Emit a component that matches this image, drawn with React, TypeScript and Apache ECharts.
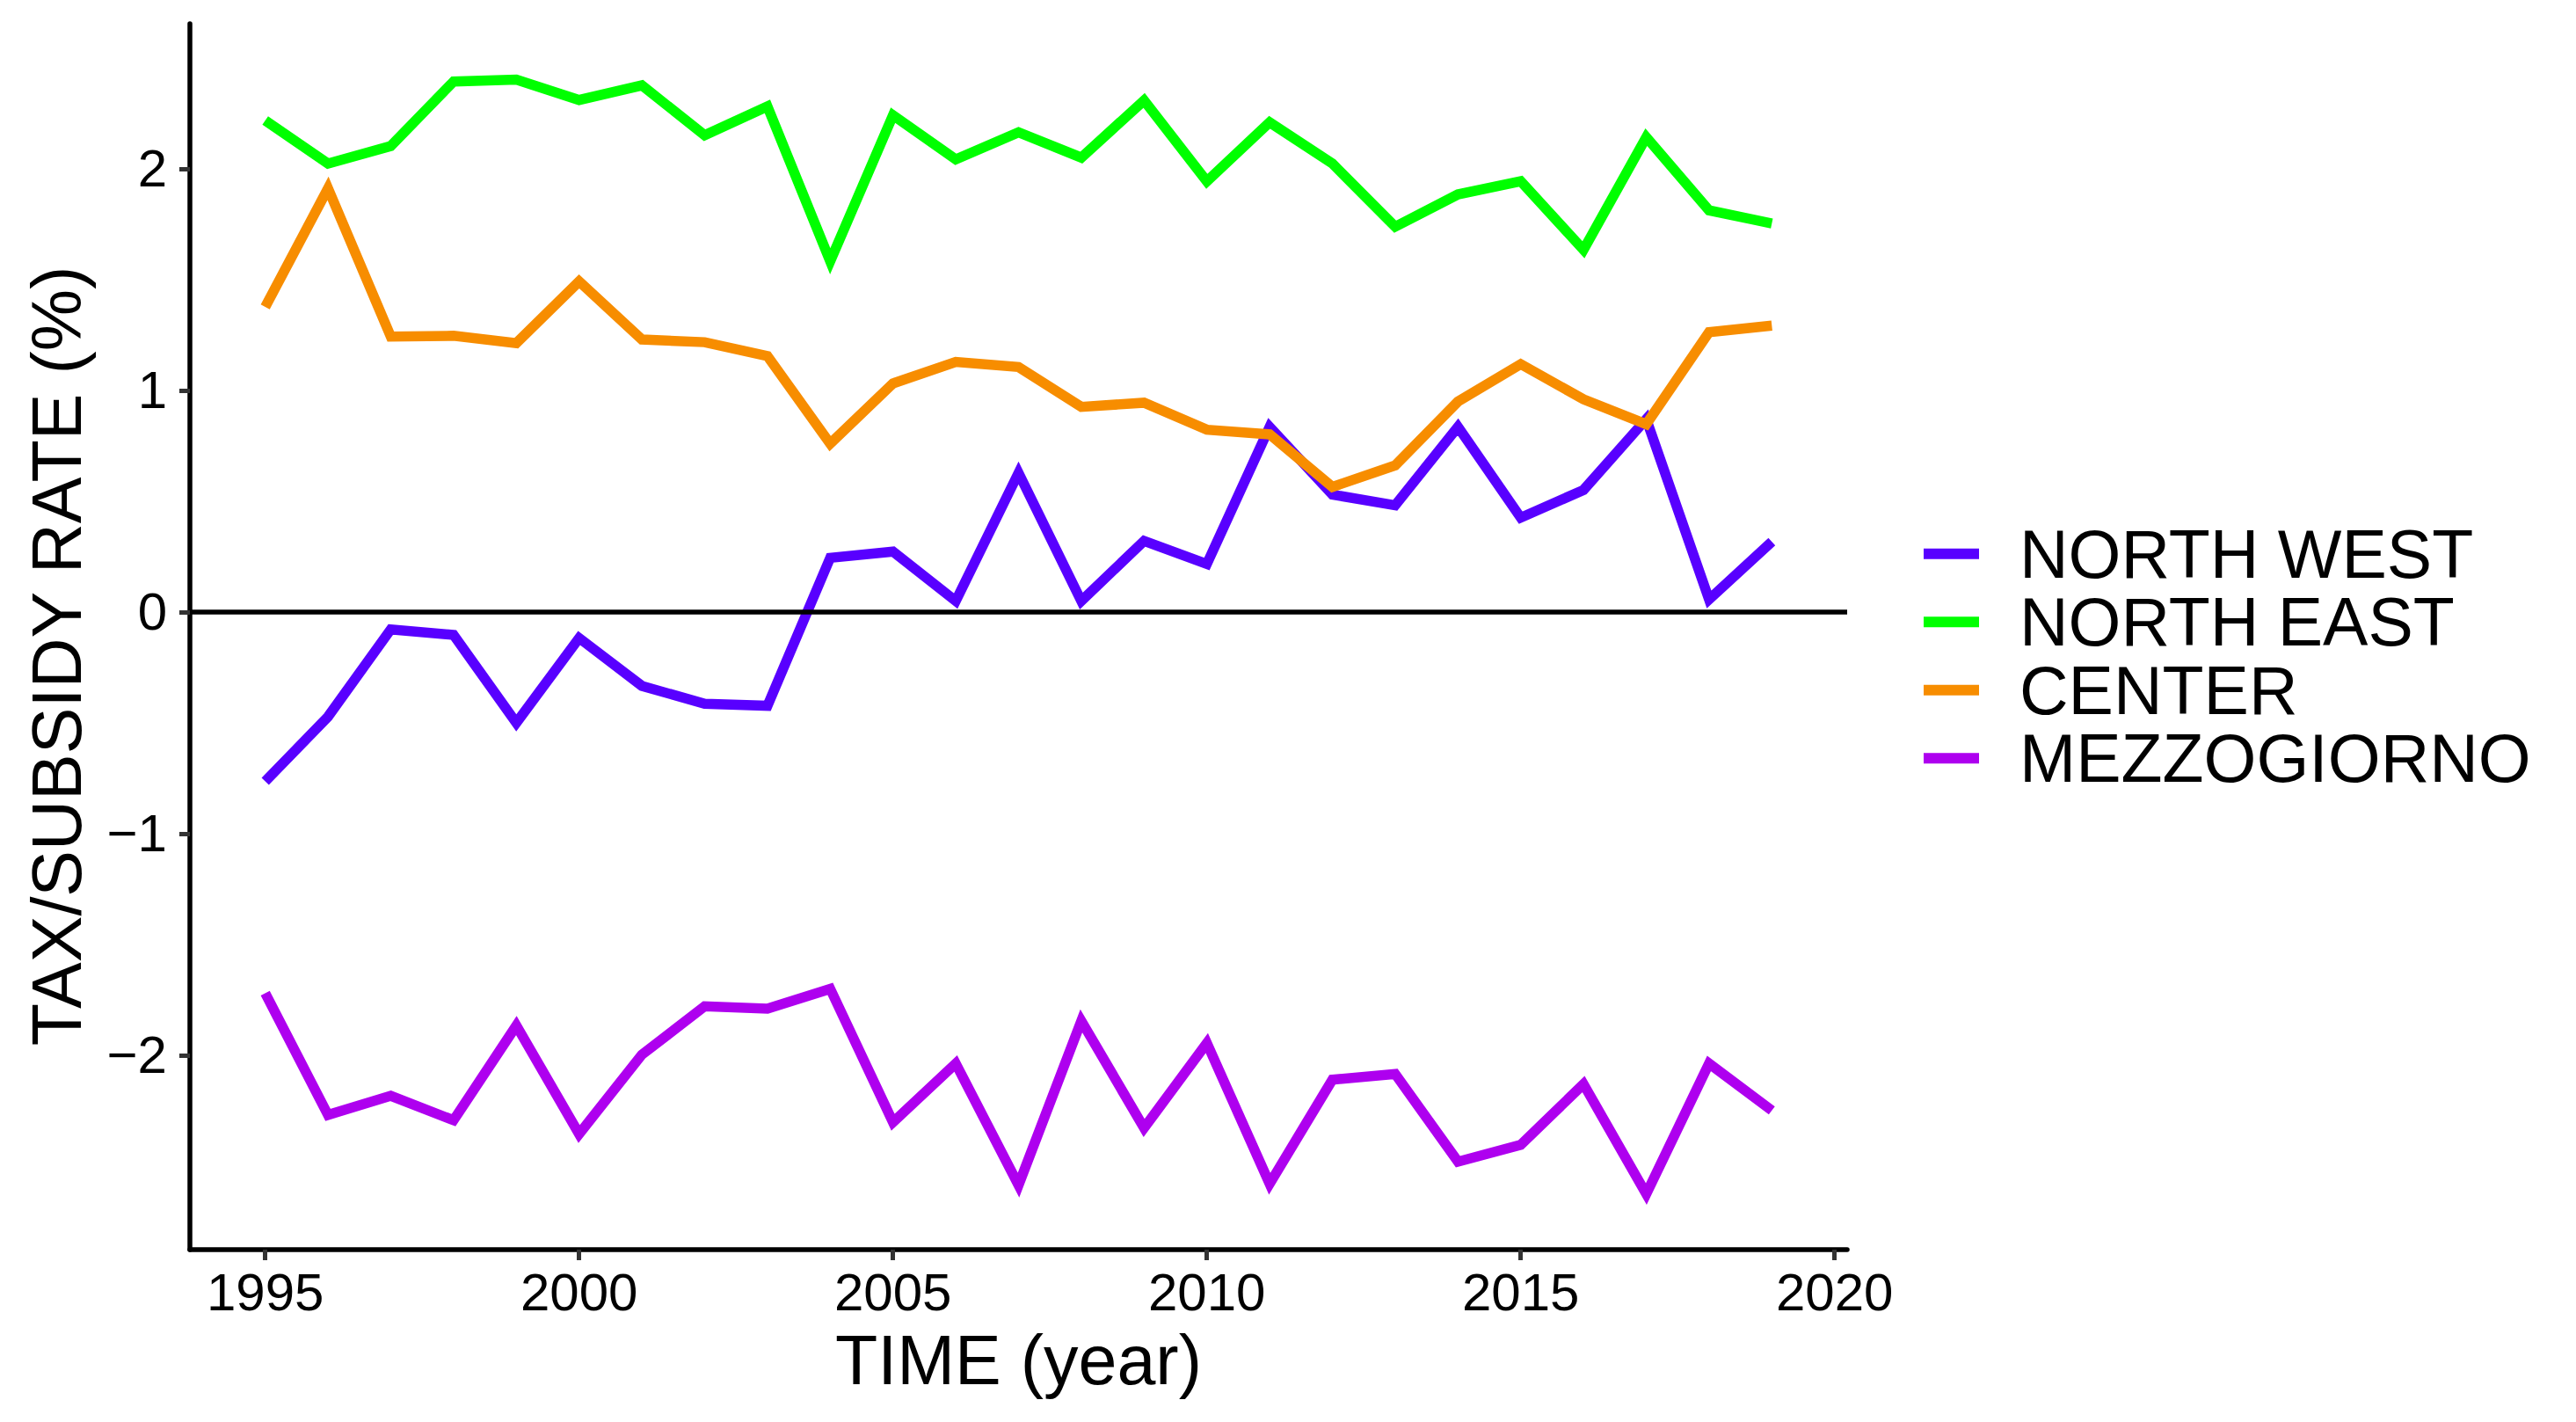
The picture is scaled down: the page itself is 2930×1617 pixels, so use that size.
import React, { useEffect, useRef } from "react";
import * as echarts from "echarts";

const years = [1995, 1996, 1997, 1998, 1999, 2000, 2001, 2002, 2003, 2004, 2005, 2006, 2007, 2008, 2009, 2010, 2011, 2012, 2013, 2014, 2015, 2016, 2017, 2018, 2019];

const seriesNames = ["NORTH WEST", "NORTH EAST", "CENTER", "MEZZOGIORNO"];
const seriesColors = ["#5800FF", "#00FF00", "#F78D00", "#AE00EF"];

const northWest = [-0.765, -0.473, -0.079, -0.104, -0.501, -0.118, -0.334, -0.415, -0.424, 0.244, 0.272, 0.049, 0.627, 0.049, 0.32, 0.216, 0.835, 0.529, 0.481, 0.835, 0.425, 0.55, 0.87, 0.056, 0.317];
const northEast = [2.217, 2.023, 2.102, 2.393, 2.402, 2.31, 2.376, 2.151, 2.281, 1.582, 2.241, 2.042, 2.164, 2.05, 2.308, 1.943, 2.209, 2.023, 1.738, 1.884, 1.943, 1.634, 2.142, 1.812, 1.753];
const center = [1.376, 1.911, 1.242, 1.246, 1.213, 1.491, 1.229, 1.217, 1.154, 0.759, 1.031, 1.128, 1.105, 0.925, 0.944, 0.822, 0.801, 0.564, 0.661, 0.949, 1.118, 0.959, 0.847, 1.262, 1.292];
const mezzogiorno = [-1.721, -2.27, -2.184, -2.294, -1.867, -2.356, -1.998, -1.78, -1.791, -1.701, -2.303, -2.038, -2.587, -1.846, -2.329, -1.946, -2.581, -2.111, -2.085, -2.481, -2.405, -2.131, -2.627, -2.038, -2.25];

const xTicks = [1995, 2000, 2005, 2010, 2015, 2020];
const yTicks = [-2, -1, 0, 1, 2];

const xTitle = "TIME (year)";
const yTitle = "TAX/SUBSIDY RATE (%)";

const FONT = "'Liberation Sans', Arial, Helvetica, sans-serif";

export default function App() {
  const ref = useRef<HTMLDivElement>(null);

  useEffect(() => {
    document.body.style.margin = "0";
    if (!ref.current) return;
    const chart = echarts.init(ref.current, null, { renderer: "svg" });
    const allValues = [northWest, northEast, center, mezzogiorno];

    const series = allValues.map((vals, i) => {
      const s: any = {
        name: seriesNames[i],
        type: "line",
        data: years.map((y, j) => [y, vals[j]]),
        showSymbol: false,
        symbol: "none",
        color: seriesColors[i],
        lineStyle: { color: seriesColors[i], width: 11.5, cap: "butt", join: "miter" },
        emphasis: { disabled: true },
        silent: true,
      };
      if (i === allValues.length - 1) {
        s.markLine = {
          silent: true,
          symbol: ["none", "none"],
          label: { show: false },
          lineStyle: { color: "#000", width: 5.5, type: "solid" },
          emphasis: { disabled: true },
          data: [{ yAxis: 0 }],
        };
      }
      return s;
    });

    const option: any = {
      animation: false,
      backgroundColor: "#ffffff",
      textStyle: { fontFamily: FONT },
      grid: { left: 216, top: 27, width: 1885, height: 1394, containLabel: false },
      xAxis: {
        type: "value",
        min: 1993.8,
        max: 2020.2,
        splitLine: { show: false },
        axisLine: { show: true, onZero: false, lineStyle: { color: "#000", width: 5.5 } },
        axisTick: { show: true, length: 12, customValues: xTicks, lineStyle: { color: "#333333", width: 5 } },
        axisLabel: {
          show: true,
          customValues: xTicks,
          fontSize: 60,
          color: "#000",
          margin: 18,
          fontFamily: FONT,
          formatter: (v: number) => String(v),
        },
        name: xTitle,
        nameLocation: "middle",
        nameGap: 86,
        nameTextStyle: { fontSize: 79, color: "#000", fontFamily: FONT },
      },
      yAxis: {
        type: "value",
        min: -2.878,
        max: 2.654,
        splitLine: { show: false },
        axisLine: { show: true, onZero: false, lineStyle: { color: "#000", width: 5.5 } },
        axisTick: { show: true, length: 12, customValues: yTicks, lineStyle: { color: "#333333", width: 5 } },
        axisLabel: {
          show: true,
          customValues: yTicks,
          fontSize: 60,
          color: "#000",
          margin: 26,
          fontFamily: FONT,
          formatter: (v: number) => (v < 0 ? "\u2212" + Math.abs(v) : String(v)),
        },
        name: yTitle,
        nameLocation: "middle",
        nameGap: 112,
        nameTextStyle: { fontSize: 79, color: "#000", fontFamily: FONT, padding: [0, 44, 0, 0] },
      },
      legend: {
        orient: "vertical",
        left: 2183,
        top: 586,
        itemWidth: 63,
        itemHeight: 12,
        itemGap: 0,
        icon: "rect",
        selectedMode: false,
        itemStyle: { borderWidth: 0 },
        textStyle: { fontSize: 77, color: "#000", fontFamily: FONT, lineHeight: 77.5, padding: [0, 0, 0, 41] },
        data: seriesNames,
      },
      series,
    };
    chart.setOption(option);
    return () => chart.dispose();
  }, []);

  return <div ref={ref} style={{ position: "absolute", left: 0, top: 0, width: "2930px", height: "1617px" }} />;
}
